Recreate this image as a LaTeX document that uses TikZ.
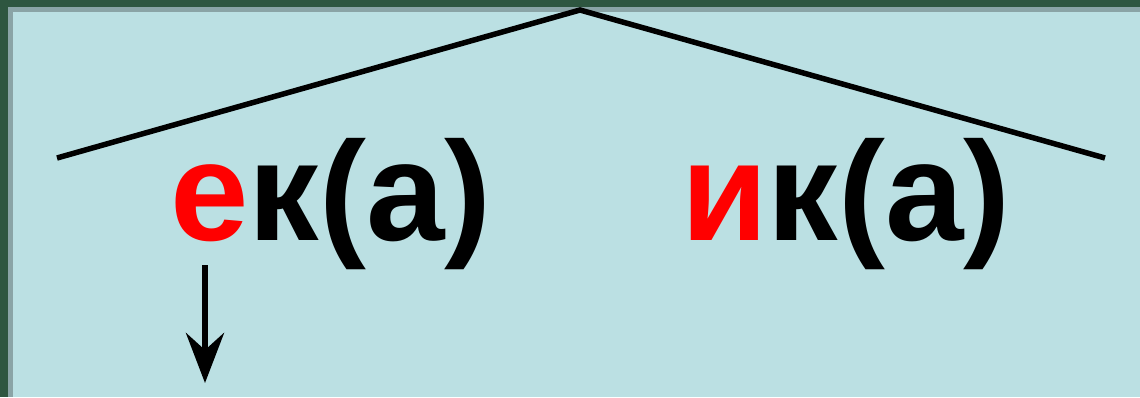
\documentclass[tikz,border=0pt]{standalone}
\usepackage{fontspec}
\setmainfont{Liberation Sans}
\usetikzlibrary{arrows.meta}
\definecolor{darkbg}{HTML}{2E5640}
\definecolor{frameg}{HTML}{8AA4A6}
\definecolor{panel}{HTML}{BBE0E3}
\definecolor{hred}{HTML}{FF0000}
\tikzset{
  word/.style={inner sep=0pt, anchor=base, font=\fontsize{141}{160}\selectfont\bfseries},
  branch/.style={line width=5.5pt, miter limit=10},
  pointer/.style={line width=6.5pt, -{Stealth[length=50pt,width=38pt,inset=17pt]}}
}
\begin{document}
\begin{tikzpicture}[x=1pt,y=-1pt]
\useasboundingbox (0,0) rectangle (1140,397);
\fill[darkbg] (0,0) rectangle (1140,397);
\fill[frameg] (8,7) rectangle (1140,397);
\fill[panel] (13,12) rectangle (1140,397);
\coordinate (apex) at (580,10);
\coordinate (lend) at (57,158);
\coordinate (rend) at (1105,158);
\draw[branch] (lend) -- (apex) -- (rend);
\node[word] (w1) at (331,240) {\textcolor{hred}{е}к(а)};
\node[word] (w2) at (846,240) {\textcolor{hred}{и}к(а)};
\coordinate (astart) at (205,265);
\coordinate (aend) at (205,383);
\draw[pointer] (astart) -- (aend);
\end{tikzpicture}
\end{document}
